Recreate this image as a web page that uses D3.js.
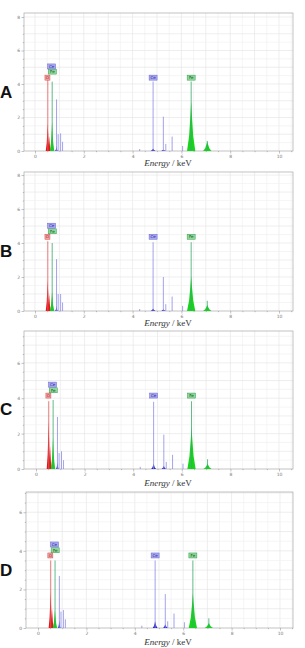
<!DOCTYPE html>
<html>
<head>
<meta charset="utf-8">
<script src="https://cdn.jsdelivr.net/npm/d3@7"></script>
<style>
  html, body { margin: 0; padding: 0; background: #fff; }
  svg { display: block; }
</style>
</head>
<body>
<div id="chart"></div>
<script>
// EDS spectra, four samples A-D

// The data
let panelNames = ["A", "B", "C", "D"];
let yMax = [8.24, 8.18, 7.8, 7.05];          // top of each counts axis
let xTicks = [0, 2, 4, 6, 8, 10];
let yTicks = [0, 2, 4, 6, 8];

// filled peaks (energy in keV, element, half base width in keV)
let fillEnergy = [0.52, 0.58, 0.70, 0.88, 4.84, 5.26, 6.40, 7.06];
let fillElement = ["O", "O", "Fe", "Ce", "Ce", "Ce", "Fe", "Fe"];
let fillWidth = [0.08, 0.07, 0.09, 0.05, 0.1, 0.09, 0.17, 0.17];
let fillA = [1.65, 0.9, 1.75, 0.3, 0.15, 0.08, 2.95, 0.56];
let fillB = [1.8, 1.0, 1.15, 0.3, 0.15, 0.1, 2.05, 0.35];
let fillC = [2.7, 1.3, 1.75, 0.4, 0.3, 0.18, 2.38, 0.3];
let fillD = [1.88, 1.0, 0.93, 0.4, 0.35, 0.2, 1.8, 0.26];

// marker lines
let markEnergy = [0.525, 0.705, 0.883, 0.95, 1.05, 1.13, 4.29, 4.84, 5.26, 5.36, 5.62, 6.05, 6.40, 7.06];
let markElement = ["O", "Fe", "Ce", "Ce", "Ce", "Ce", "Ce", "Ce", "Ce", "Ce", "Ce", "Ce", "Fe", "Fe"];
let markA = [4.24, 4.14, 3.08, 1.0, 1.05, 0.55, 0.12, 4.15, 2.05, 0.42, 0.86, 0.3, 4.15, 0.6];
let markB = [4.1, 4.0, 3.05, 1.0, 1.0, 0.5, 0.12, 4.05, 2.0, 0.4, 0.85, 0.3, 4.05, 0.6];
let markC = [3.83, 3.9, 2.94, 0.9, 1.0, 0.5, 0.12, 3.8, 1.94, 0.4, 0.8, 0.3, 3.83, 0.55];
let markD = [3.5, 3.5, 2.7, 0.85, 0.93, 0.45, 0.12, 3.5, 1.76, 0.35, 0.75, 0.3, 3.5, 0.5];

// element labels
let labelText = ["O", "Fe", "Ce", "Ce", "Fe"];
let labelEnergy = [0.51, 0.71, 0.68, 4.84, 6.40];
let labelA = [4.38, 4.74, 5.05, 4.38, 4.38];
let labelB = [4.37, 4.69, 5.02, 4.37, 4.37];
let labelC = [4.15, 4.45, 4.77, 4.15, 4.15];
let labelD = [3.76, 4.03, 4.33, 3.76, 3.76];

let fills = [fillA, fillB, fillC, fillD];
let marks = [markA, markB, markC, markD];
let labels = [labelA, labelB, labelC, labelD];

// colours per element
let fillColor = { O: "#e4161a", Fe: "#16d41c", Ce: "#2424c8" };
let lineColor = { O: "#e25a5a", Fe: "#3aa86a", Ce: "#8c8ce8" };
let boxFill = { O: "#f2a6a6", Fe: "#8fd99a", Ce: "#aaaaf2" };
let boxStroke = { O: "#d84848", Fe: "#2f9e4a", Ce: "#6464d6" };
let boxText = { O: "#9a1a1a", Fe: "#0e4e1a", Ce: "#24248a" };

// layout of the four frames
let frames = [
    { top: 13, bottom: 151, left: 24, right: 293, x0: 35, x10: 279, letterY: 92, titleY: 166 },
    { top: 172, bottom: 311, left: 24, right: 293, x0: 35, x10: 279, letterY: 251, titleY: 326 },
    { top: 331, bottom: 469, left: 24, right: 293, x0: 36, x10: 279, letterY: 409, titleY: 486 },
    { top: 492, bottom: 628, left: 26, right: 293, x0: 38, x10: 280, letterY: 570, titleY: 645 }
];

let svg = d3.select("#chart")
    .append("svg")
    .attr("width", 305)
    .attr("height", 648);

panelNames.forEach(function (name, i) {
    let f = frames[i];
    let x = d3.scaleLinear().domain([0, 10]).range([f.x0, f.x10]);
    let y = d3.scaleLinear().domain([0, yMax[i]]).range([f.bottom, f.top]);
    let g = svg.append("g");

    // grid
    let xMin = x.invert(f.left), xMaxV = x.invert(f.right);
    let vx = d3.range(Math.ceil(xMin * 2) / 2, xMaxV, 0.5);
    g.selectAll(".vg").data(vx).enter().append("line")
        .attr("x1", d => x(d)).attr("x2", d => x(d))
        .attr("y1", f.top).attr("y2", f.bottom)
        .attr("stroke", d => d % 1 === 0 ? "#e2e2e2" : "#efefef")
        .attr("stroke-width", 0.6);
    let hy = d3.range(0.5, yMax[i], 0.5);
    g.selectAll(".hg").data(hy).enter().append("line")
        .attr("x1", f.left).attr("x2", f.right)
        .attr("y1", d => y(d)).attr("y2", d => y(d))
        .attr("stroke", d => d % 1 === 0 ? "#e2e2e2" : "#efefef")
        .attr("stroke-width", 0.6);

    // frame
    g.append("rect")
        .attr("x", f.left).attr("y", f.top)
        .attr("width", f.right - f.left).attr("height", f.bottom - f.top)
        .attr("fill", "none").attr("stroke", "#a8a8a8").attr("stroke-width", 0.7);

    // axes
    let fmt = d3.format("d");
    let xAxis = d3.axisBottom(x).tickValues(xTicks).tickSize(2.5).tickPadding(1.5).tickFormat(fmt);
    g.append("g").attr("transform", "translate(0," + f.bottom + ")").call(xAxis);
    let xMinor = d3.axisBottom(x).tickValues(d3.range(0, 10.6, 0.5).filter(d => d % 2 !== 0))
        .tickSize(1.2).tickFormat("");
    g.append("g").attr("transform", "translate(0," + f.bottom + ")").call(xMinor);
    let yAxis = d3.axisLeft(y).tickValues(yTicks.filter(d => d <= yMax[i])).tickSize(2.5).tickPadding(1.5).tickFormat(fmt);
    g.append("g").attr("transform", "translate(" + f.left + ",0)").call(yAxis);
    let yMinor = d3.axisLeft(y).tickValues(d3.range(0.5, yMax[i], 0.5).filter(d => d % 2 !== 0))
        .tickSize(1.2).tickFormat("");
    g.append("g").attr("transform", "translate(" + f.left + ",0)").call(yMinor);
    g.selectAll(".domain").remove();
    g.selectAll(".tick line").attr("stroke", "#888").attr("stroke-width", 0.5);
    g.selectAll(".tick text").attr("fill", "#777").style("font-size", "4.5px")
        .style("font-family", "DejaVu Sans");

    // filled peaks
    let area = d3.line().x(d => x(d[0])).y(d => y(d[1]));
    fillEnergy.forEach(function (e, k) {
        let h = fills[i][k], w = fillWidth[k];
        let pts = [[e - w, 0], [e - w * 0.5, h * 0.3], [e - w * 0.18, h * 0.72], [e, h],
                   [e + w * 0.18, h * 0.72], [e + w * 0.5, h * 0.3], [e + w, 0]];
        g.append("path")
            .attr("d", area(pts) + "Z")
            .attr("fill", fillColor[fillElement[k]]);
    });

    // marker lines
    markEnergy.forEach(function (e, k) {
        g.append("line")
            .attr("x1", x(e)).attr("x2", x(e))
            .attr("y1", y(0)).attr("y2", y(marks[i][k]))
            .attr("stroke", lineColor[markElement[k]])
            .attr("stroke-width", 0.8);
    });

    // element labels
    labelText.forEach(function (t, k) {
        let cx = x(labelEnergy[k]), cy = y(labels[i][k]);
        let w = t === "O" ? 5 : 8, h = 5;
        g.append("rect")
            .attr("x", cx - w / 2).attr("y", cy - h / 2)
            .attr("width", w).attr("height", h)
            .attr("fill", boxFill[t]).attr("stroke", boxStroke[t]).attr("stroke-width", 0.5);
        g.append("text")
            .attr("x", cx).attr("y", cy + 1.5)
            .attr("text-anchor", "middle")
            .style("font-family", "DejaVu Sans").style("font-size", "4px")
            .attr("fill", boxText[t])
            .text(t);
    });

    // panel letter
    svg.append("text")
        .attr("x", 0).attr("y", f.letterY + 6)
        .style("font-family", "Liberation Sans, Arial, sans-serif")
        .style("font-weight", "bold").style("font-size", "17px")
        .attr("fill", "#111")
        .text(name);

    // axis title
    let title = svg.append("text")
        .attr("x", 168).attr("y", f.titleY)
        .attr("text-anchor", "middle")
        .style("font-family", "Liberation Serif, serif").style("font-size", "9px")
        .attr("fill", "#333");
    title.append("tspan").style("font-style", "italic").text("Energy");
    title.append("tspan").text(" / keV");
});
</script>
</body>
</html>
